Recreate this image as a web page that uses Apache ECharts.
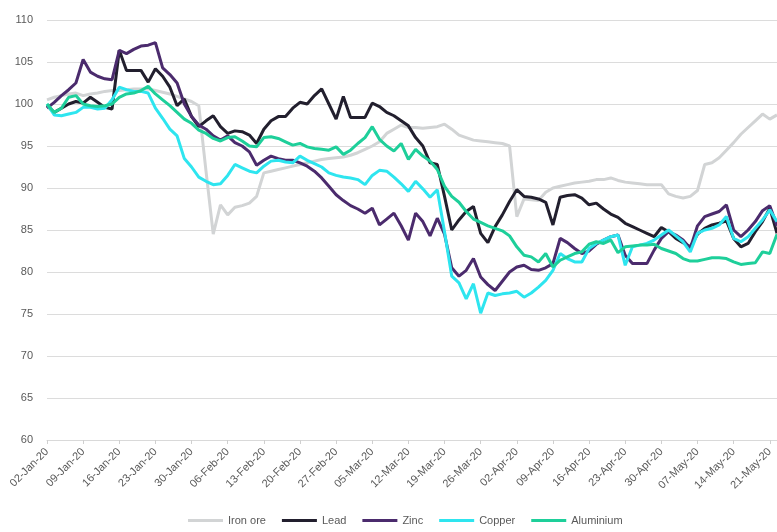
<!DOCTYPE html>
<html>
<head>
<meta charset="utf-8">
<script src="https://cdn.jsdelivr.net/npm/echarts@6/dist/echarts.min.js"></script>
<style>html,body{margin:0;padding:0;background:#fff}#c{width:777px;height:532px}</style>
</head>
<body>
<div id="c"></div>
<script>
// Categories: trading weekdays from 02-Jan-20 to 22-May-20
const startDate = '2020-01-02';
const endDate = '2020-05-22';
const monthNames = ['Jan','Feb','Mar','Apr','May','Jun','Jul','Aug','Sep','Oct','Nov','Dec'];
const categories = [];
(function(){
  let d = new Date(startDate + 'T00:00:00Z');
  const e = new Date(endDate + 'T00:00:00Z');
  while (d <= e) {
    const wd = d.getUTCDay();
    if (wd !== 0 && wd !== 6) {
      const dd = String(d.getUTCDate()).padStart(2, '0');
      categories.push(dd + '-' + monthNames[d.getUTCMonth()] + '-' + String(d.getUTCFullYear()).slice(2));
    }
    d = new Date(d.getTime() + 86400000);
  }
})();

const seriesNames = ['Iron ore', 'Lead', 'Zinc', 'Copper', 'Aluminium'];
const seriesColors = ['#d2d4d5', '#221f2e', '#4b2b6d', '#2ee5ef', '#1ecf9a'];

const ironOre = [
  100.5, 100.8, 101.0, 101.2, 101.3, 101.0, 101.2, 101.3, 101.5, 101.6,
  101.6, 101.7, 101.8, 101.8, 101.8, 101.6, 101.4, 101.2, 100.9, 100.6,
  100.3, 99.8, 92.0, 84.5, 88.0, 86.8, 87.7, 87.9, 88.2, 89.0,
  91.8, 92.0, 92.2, 92.4, 92.6, 92.8, 93.0, 93.2, 93.4, 93.5,
  93.6, 93.7, 93.9, 94.2, 94.6, 95.0, 95.5, 96.5, 97.0, 97.5,
  97.2, 97.2, 97.1, 97.2, 97.3, 97.6, 97.0, 96.3, 96.0, 95.7,
  95.6, 95.5, 95.4, 95.3, 95.0, 86.6, 88.7, 88.6, 88.5, 89.5,
  90.0, 90.2, 90.4, 90.6, 90.7, 90.8, 91.0, 91.0, 91.2, 90.9,
  90.7, 90.6, 90.5, 90.4, 90.4, 90.4, 89.3, 89.0, 88.8, 89.0,
  89.7, 92.8, 93.0, 93.6, 94.5, 95.4, 96.4, 97.2, 98.0, 98.8,
  98.2, 98.7
];
const lead = [
  99.8, 99.0, 99.5, 100.0, 100.3, 100.1, 100.8, 100.2, 99.6, 99.4,
  106.4, 104.0, 104.0, 104.0, 102.6, 104.2, 103.3, 102.0, 99.8, 100.6,
  98.5, 97.3, 98.0, 98.6, 97.3, 96.5, 96.8, 96.7, 96.3, 95.3,
  97.0, 98.0, 98.5, 98.5, 99.5, 100.2, 100.0, 101.0, 101.8, 100.0,
  98.2, 100.9, 98.4, 98.4, 98.4, 100.1, 99.7, 99.0, 98.6, 98.0,
  97.4, 96.0, 95.0, 93.0, 92.8, 89.0, 85.0, 86.2, 87.2, 87.8,
  84.6, 83.5, 85.4, 86.8, 88.4, 89.8, 89.0, 88.9, 88.7, 88.3,
  85.6, 88.9, 89.1, 89.2, 88.8, 88.0, 88.2, 87.5, 86.9, 86.5,
  85.8, 85.4, 85.0, 84.6, 84.2, 85.3, 84.8, 84.0, 83.5, 83.0,
  84.5, 85.2, 85.6, 85.8, 86.1, 84.0, 83.0, 83.4, 84.8, 86.0,
  87.6, 84.6
];
const zinc = [
  99.5, 100.2, 101.0, 101.7, 102.5, 105.3, 103.8, 103.3, 103.0, 102.9,
  106.4, 106.0, 106.5, 106.9, 107.0, 107.3, 104.3, 103.5, 102.5, 100.0,
  98.5, 97.5, 97.0, 96.2, 95.7, 96.2, 95.4, 95.0, 94.3, 92.7,
  93.3, 93.8, 93.5, 93.3, 93.3, 93.0, 92.6, 92.0, 91.2, 90.2,
  89.2, 88.5, 87.9, 87.5, 87.0, 87.6, 85.6, 86.3, 87.0, 85.5,
  83.8, 87.0, 86.0, 84.3, 86.4, 84.5, 80.5, 79.5, 80.2, 81.6,
  79.4, 78.5, 77.8, 78.9, 80.0, 80.6, 80.8, 80.3, 80.2, 80.5,
  81.0, 84.0, 83.5, 82.8, 82.2, 82.5, 83.3, 83.8, 84.2, 84.4,
  82.0, 81.0, 81.0, 81.0, 82.6, 84.0, 84.8, 84.4, 83.8, 82.8,
  85.5, 86.6, 86.9, 87.2, 88.0, 85.0, 84.2, 85.0, 86.0, 87.3,
  87.9, 85.5
];
const copper = [
  100.0, 98.7, 98.6, 98.8, 99.0, 99.6, 99.6, 99.4, 99.5, 100.5,
  102.0, 101.7, 101.5, 101.5, 101.3, 99.5, 98.3, 97.0, 96.2, 93.5,
  92.5, 91.3, 90.8, 90.4, 90.5, 91.5, 92.8, 92.4, 92.0, 91.8,
  92.6, 93.2, 93.3, 93.1, 93.0, 93.8, 93.3, 92.9, 92.5, 91.8,
  91.5, 91.3, 91.2, 91.0, 90.4, 91.5, 92.1, 92.0, 91.3, 90.5,
  89.6, 90.8, 89.9, 88.9, 89.8, 84.8, 79.5, 78.7, 76.8, 78.6,
  75.1, 77.5, 77.2, 77.4, 77.5, 77.7, 77.0, 77.5, 78.2, 79.0,
  80.2, 82.2, 81.6, 81.2, 81.2, 82.8, 83.4, 83.8, 84.2, 84.4,
  80.8, 83.0, 83.2, 83.4, 83.8, 84.4, 85.0, 84.3, 83.6, 82.4,
  84.6, 85.0, 85.2, 85.6, 86.6, 84.0, 83.6, 84.2, 85.2, 86.2,
  87.4, 86.0
];
const aluminium = [
  100.0, 99.0, 99.5, 100.8, 101.0, 100.0, 99.8, 99.7, 99.8, 100.0,
  100.8, 101.2, 101.3, 101.6, 102.1, 101.2, 100.5, 99.8, 99.0, 98.2,
  97.7, 96.9, 96.5, 95.9, 95.6, 96.0, 96.1, 95.6, 95.0, 94.9,
  96.0, 96.1, 95.9, 95.5, 95.1, 95.3, 94.9, 94.7, 94.6, 94.5,
  94.9, 94.0, 94.5, 95.3, 96.0, 97.3, 95.8, 95.0, 94.4, 95.3,
  93.4, 94.6, 93.8, 93.2, 92.2, 90.2, 89.0, 88.3, 87.2, 86.3,
  85.9, 85.5, 85.2, 84.9, 84.3, 83.0, 82.0, 81.8, 81.2, 82.2,
  80.6, 81.4, 81.8, 82.2, 82.4, 83.3, 83.6, 83.4, 83.8, 82.3,
  83.0, 83.1, 83.2, 83.2, 83.3, 82.8, 82.5, 82.2, 81.6, 81.3,
  81.3, 81.5, 81.7, 81.7, 81.6, 81.2, 80.9, 81.0, 81.1, 82.4,
  82.2, 84.5
];
const seriesData = [ironOre, lead, zinc, copper, aluminium];

const yMin = 60, yMax = 110, yStep = 5;

const chart = echarts.init(document.getElementById('c'), null, {renderer: 'canvas'});
chart.setOption({
  animation: false,
  backgroundColor: '#ffffff',
  color: seriesColors,
  grid: {left: 47, right: 0, top: 20, bottom: 92, containLabel: false},
  legend: {
    data: seriesNames,
    left: 183,
    bottom: 1,
    icon: 'rect',
    itemWidth: 35,
    itemHeight: 3,
    itemGap: 16,
    textStyle: {color: '#595959', fontSize: 11, fontFamily: 'Liberation Sans Narrow, Liberation Sans, sans-serif'}
  },
  xAxis: {
    type: 'category',
    data: categories,
    boundaryGap: false,
    axisLine: {show: true, lineStyle: {color: '#d9d9d9', width: 1}},
    axisTick: {show: true, interval: 4, length: 4, lineStyle: {color: '#d0d0d0'}},
    axisLabel: {interval: 4, rotate: 45, color: '#595959', fontSize: 11, margin: 10,
      fontFamily: 'Liberation Sans Narrow, Liberation Sans, sans-serif'},
    splitLine: {show: false}
  },
  yAxis: {
    type: 'value',
    min: yMin, max: yMax, interval: yStep,
    axisLine: {show: false},
    axisTick: {show: false},
    axisLabel: {color: '#595959', fontSize: 11, margin: 14,
      fontFamily: 'Liberation Sans, sans-serif'},
    splitLine: {lineStyle: {color: '#dcdcdc', width: 1}}
  },
  series: seriesNames.map((n, k) => ({
    name: n,
    type: 'line',
    data: seriesData[k],
    showSymbol: false,
    symbol: 'none',
    smooth: false,
    lineStyle: {width: 3, color: seriesColors[k]},
    itemStyle: {color: seriesColors[k]},
    z: 2 + k
  }))
});
</script>
</body>
</html>
